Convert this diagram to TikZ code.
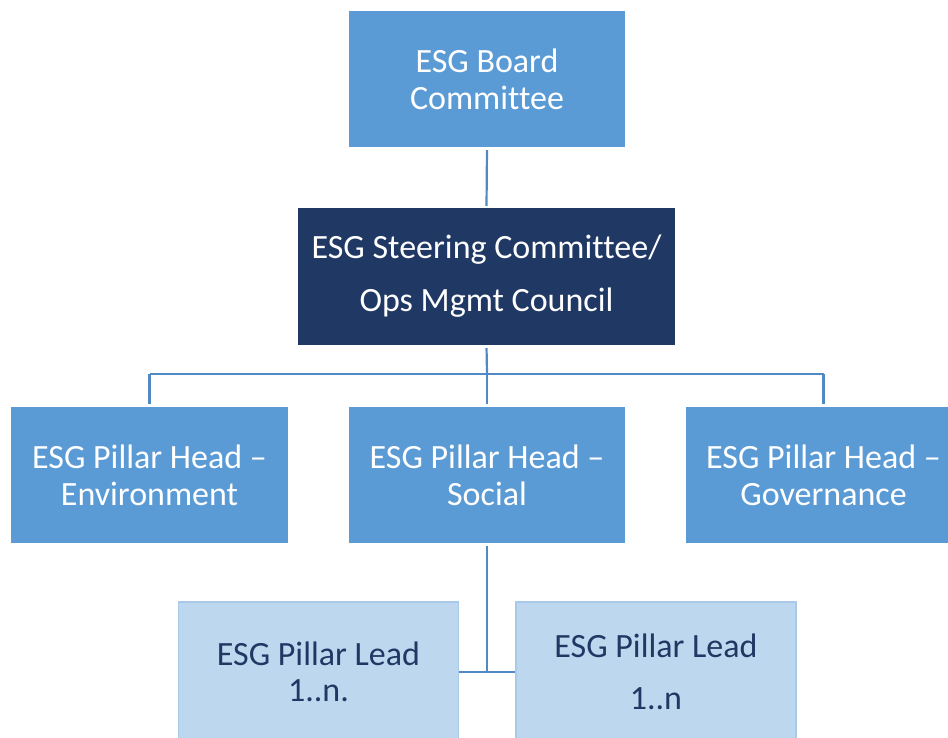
\documentclass[tikz,border=0pt]{standalone}
\usepackage{fontspec}
\setmainfont[Ligatures={NoCommon}]{Carlito}
\definecolor{midblue}{HTML}{5B9BD5}
\definecolor{navy}{HTML}{203864}
\definecolor{paleblue}{HTML}{BDD7EE}
\definecolor{paleedge}{HTML}{A9C9E8}
\definecolor{linkblue}{HTML}{5189C4}
\tikzset{
  box/.style={rectangle, minimum width=276pt, minimum height=136pt, inner sep=0pt, align=center},
  headbox/.style={box, fill=midblue, text=white, font=\fontsize{34}{37}\selectfont},
  steerbox/.style={box, fill=navy, text=white, minimum width=377pt, minimum height=137pt, font=\fontsize{34}{53}\selectfont},
  leadbox/.style={box, fill=paleblue, draw=paleedge, line width=1.5pt, text=navy, minimum width=280pt, minimum height=140pt},
  link/.style={draw=linkblue, line width=2.2pt}
}
\begin{document}
\begin{tikzpicture}[x=1pt,y=-1pt]
\useasboundingbox (0,0) rectangle (948,738);
\clip (0,0) rectangle (948,738);
\node[headbox] (board) at (487,79) {ESG Board\\Committee};
\node[steerbox] (steer) at (486.5,276.5) {ESG Steering Committee/\\Ops Mgmt Council};
\node[headbox, minimum width=277pt] (env) at (149.5,475) {ESG Pillar Head –\\Environment};
\node[headbox] (soc) at (487,475) {ESG Pillar Head –\\Social};
\node[headbox, minimum width=275pt] (gov) at (823.5,475) {ESG Pillar Head –\\Governance};
\node[leadbox, font=\fontsize{34}{36}\selectfont] (lead1) at (318.5,672) {ESG Pillar Lead\\1..n.};
\node[leadbox, font=\fontsize{34}{52}\selectfont] (lead2) at (656,672) {ESG Pillar Lead\\1..n};
\coordinate (bar) at (487,374);
\draw[link, shorten <=3pt, shorten >=2pt] (board.south) -- (steer.north);
\draw[link, shorten <=3pt] (steer.south) -- (bar);
\draw[link, shorten >=3pt] (env.north |- bar) -- (env.north);
\draw[link, shorten >=3pt] (gov.north |- bar) -- (gov.north);
\draw[link, shorten >=3pt] (bar) -- (soc.north);
\draw[link] (env.north |- bar) -- (gov.north |- bar);
\draw[link, shorten <=3pt] (soc.south) -- (soc.south |- lead1.east);
\draw[link] (lead1.east) -- (lead2.west);
\end{tikzpicture}
\end{document}
